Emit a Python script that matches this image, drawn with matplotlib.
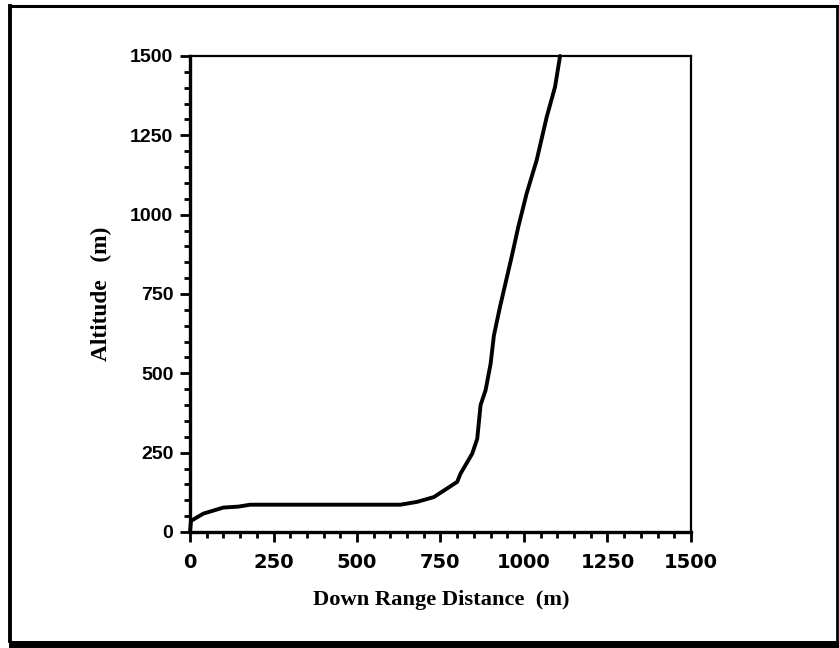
import matplotlib
matplotlib.use("Agg")
import matplotlib.pyplot as plt
from matplotlib.ticker import MultipleLocator
from matplotlib.lines import Line2D

# Data
down_range = [0, 3, 40, 100, 145, 180, 300, 450, 630, 680, 730, 800, 810, 845,
              860, 870, 885, 900, 910, 928, 963, 983, 1008, 1038, 1068, 1093, 1108]
altitude = [0, 35, 58, 77, 80, 86, 86, 86, 86, 95, 110, 158, 184, 247,
            294, 400, 447, 530, 620, 709, 867, 962, 1067, 1172, 1308, 1403, 1500]
x_ticks = [0, 250, 500, 750, 1000, 1250, 1500]
y_ticks = [0, 250, 500, 750, 1000, 1250, 1500]

W, H = 839, 648
fig = plt.figure(figsize=(W / 100, H / 100), dpi=100)
ax = fig.add_axes([190 / W, 1 - 532 / H, (691 - 190) / W, (532 - 56) / H])

ax.plot(down_range, altitude, color="black", lw=2.8, solid_capstyle="round",
        solid_joinstyle="round", clip_on=False)

ax.set_xlim(0, 1500)
ax.set_ylim(0, 1500)
ax.set_xticks(x_ticks)
ax.set_yticks(y_ticks)
ax.xaxis.set_minor_locator(MultipleLocator(50))
ax.yaxis.set_minor_locator(MultipleLocator(50))

for side in ["left", "bottom"]:
    ax.spines[side].set_linewidth(2.4)
for side in ["top", "right"]:
    ax.spines[side].set_linewidth(1.6)

ax.tick_params(axis="x", which="major", direction="out", length=7, width=2, color="black", pad=8)
ax.tick_params(axis="y", which="major", direction="out", length=7, width=2, color="black", pad=5)
ax.tick_params(which="minor", direction="out", length=4.5, width=2, color="black")

ax.set_xticklabels([str(v) for v in x_ticks], fontfamily="DejaVu Sans",
                   fontweight="bold", fontsize=14)
ax.set_yticklabels([str(v) for v in y_ticks], fontfamily="Liberation Sans",
                   fontweight="bold", fontsize=14)

fig.text(441 / W, 1 - 600 / H, "Down Range Distance  (m)", ha="center", va="center",
         fontfamily="Liberation Serif", fontweight="bold", fontsize=16.2)
fig.text(101 / W, 1 - 294 / H, "Altitude   (m)", ha="center", va="center",
         rotation=90, fontfamily="Liberation Serif", fontweight="bold", fontsize=16.8)

# Outer frame with drop shadow on bottom
def fl(x0, y0, x1, y1, lw):
    fig.add_artist(Line2D([x0 / W, x1 / W], [1 - y0 / H, 1 - y1 / H],
                          transform=fig.transFigure, color="black", lw=lw,
                          solid_capstyle="projecting"))

fl(10, 5.5, 836.5, 5.5, 2.2)      # top
fl(10, 5.5, 10, 641, 2.8)         # left
fl(836.5, 5.5, 836.5, 643, 2.0)   # right
fl(12, 643.5, 836.5, 643.5, 5.0)  # bottom (shadow)

fig.savefig("out.png", dpi=100)
